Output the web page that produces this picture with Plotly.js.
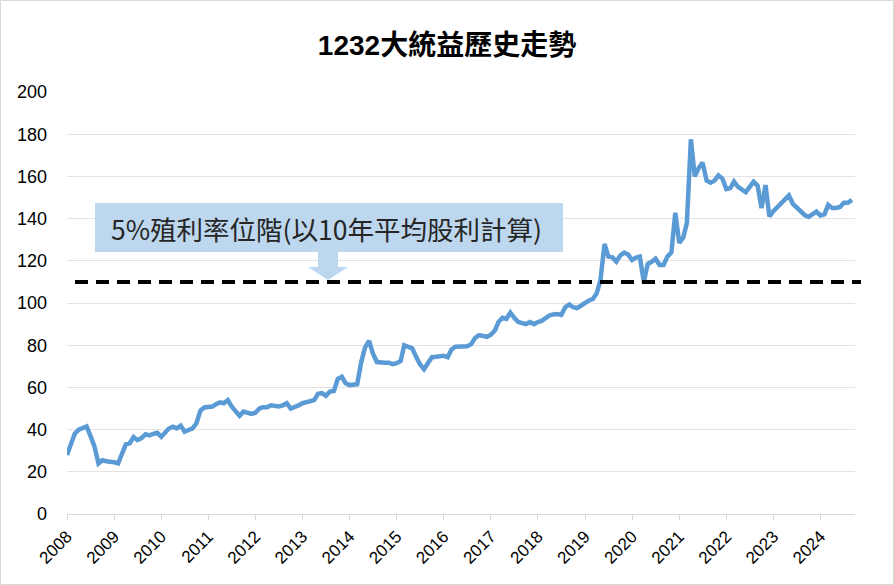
<!DOCTYPE html>
<html>
<head>
<meta charset="utf-8">
<script src="https://cdn.plot.ly/plotly-3.0.1.min.js"></script>
<style>html,body{margin:0;padding:0;background:#fff;}#chart{width:894px;height:585px;}</style>
</head>
<body>
<div id="chart"></div>
<script>
// Monthly closing price, starting Jan 2008
const startYear = 2008;
const prices = [
  28, 34, 38, 40, 41, 41.5, 37, 32, 24, 25.5, 25, 25,
  24.5, 24, 28, 33, 33.5, 36.5, 35, 36, 37.8, 37.3, 38, 38.5,
  36.6, 38.5, 40.5, 41.4, 40.6, 41.9, 39, 39.8, 40.6, 43, 49, 50.5,
  50.9, 50.9, 52, 52.9, 52.5, 54, 51, 48.5, 46.5, 48.5, 48, 47.4,
  48, 50, 50.6, 50.6, 51.5, 51, 51, 51.5, 52.5, 50, 50.5, 51.5,
  52.5, 53.2, 53.6, 54, 57, 57.3, 56, 58, 58.3, 64, 65, 62,
  61.1, 61.1, 61.5, 72, 79, 82, 76, 72, 71.7, 71.7, 71.7, 71,
  71.5, 72.5, 80, 79.5, 78.5, 74.5, 71, 68.6, 72, 74.3, 74.5, 74.6,
  75, 74.3, 78, 79.3, 79.3, 79.8, 79.5, 80.5, 83.5, 84.8, 84.2, 84,
  85, 87, 91, 93, 92.5, 95.4, 93, 91, 90.5, 90, 91, 90,
  91, 91.6, 92.8, 94.2, 94.6, 94.8, 94.4, 98, 99.3, 98, 97.6, 98.5,
  100, 101.2, 101.8, 104.5, 111, 128, 122, 121.6, 119.6, 122.5, 123.9, 123,
  120.4, 121.5, 122, 110, 118.5, 119.5, 121, 118, 118, 122, 124, 142.8,
  128.5, 131, 138, 177.6, 160, 164, 166.5, 158, 157, 158, 160.5, 159,
  154, 154.5, 157.5, 155, 154, 152.5, 155, 157.5, 155.5, 145, 155.9, 141,
  143.5, 145.5, 147.5, 149.5, 151, 147, 145.3, 144, 141.7, 140.8, 142, 143.3,
  141.5, 142, 146.5, 145, 145, 145.5, 147.5, 147.5, 148.9
];
const yearTicks = [2008,2009,2010,2011,2012,2013,2014,2015,2016,2017,2018,2019,2020,2021,2022,2023,2024];
const refLevel = 110;
const titleText = '1232大統益歷史走勢';
const noteText = '5%殖利率位階(以10年平均股利計算)';

const dates = prices.map((_, i) => {
  const y = startYear + Math.floor(i / 12);
  const m = (i % 12) + 1;
  return y + '-' + String(m).padStart(2, '0') + '-01';
});

// pixel -> paper helpers for decorations
const PL = 67, PR = 855, PT = 92, PB = 514;
const px = v => (v - PL) / (PR - PL);
const py = v => (PB - v) / (PB - PT);

const calloutPath = [
  'M', px(95), py(203), 'L', px(563), py(203), 'L', px(563), py(252),
  'L', px(338), py(252), 'L', px(338), py(267), 'L', px(348), py(267),
  'L', px(328), py(280), 'L', px(308), py(267), 'L', px(318), py(267),
  'L', px(318), py(252), 'L', px(95), py(252), 'Z'
].join(' ');

const trace = {
  x: dates, y: prices, type: 'scatter', mode: 'lines',
  line: {color: '#5B9BD5', width: 4.5}, hoverinfo: 'skip'
};

const layout = {
  width: 894, height: 585,
  margin: {l: PL, r: 894 - PR, t: PT, b: 585 - PB},
  paper_bgcolor: '#fff', plot_bgcolor: '#fff',
  showlegend: false,
  font: {family: 'Liberation Sans, Arial, "Noto Sans CJK TC", sans-serif', color: '#000'},
  title: {
    text: titleText,
    font: {size: 28, family: 'Liberation Sans, Arial, "Noto Sans CJK TC", sans-serif', color: '#000', weight: 'bold'},
    x: 0.5, xanchor: 'center', y: 1 - 45/585, yanchor: 'middle'
  },
  xaxis: {
    type: 'date',
    range: ['2008-01-01', '2024-09-25'],
    tickvals: yearTicks.map(y => y + '-01-01'),
    ticktext: yearTicks.map(String),
    tickangle: -45,
    ticks: 'outside', ticklen: 5, tickcolor: '#d9d9d9', tickwidth: 1,
    showgrid: false, zeroline: false,
    showline: true, linecolor: '#d9d9d9', linewidth: 1,
    tickfont: {size: 17, color: '#000'}
  },
  yaxis: {
    range: [0, 200], dtick: 20, tick0: 0,
    showgrid: true, gridcolor: '#e3e3e3', gridwidth: 1,
    zeroline: false, showline: false, ticks: '',
    tickfont: {size: 18, color: '#000'}, ticklabelstandoff: 19
  },
  shapes: [
    {type: 'path', xref: 'paper', yref: 'paper', path: calloutPath,
     fillcolor: '#BDD7EE', line: {width: 0}, layer: 'above'},
    {type: 'line', xref: 'paper', yref: 'y', x0: px(75), x1: px(861), y0: refLevel, y1: refLevel,
     line: {color: '#000', width: 4, dash: '13px,8px'}, layer: 'above'},
    {type: 'rect', xref: 'paper', yref: 'paper', x0: px(0.5), x1: px(893.5), y0: py(584.5), y1: py(0.5),
     line: {color: '#d9d9d9', width: 1}, fillcolor: 'rgba(0,0,0,0)', layer: 'below'}
  ],
  annotations: [
    {xref: 'paper', yref: 'paper', x: px(326), y: py(228), xanchor: 'center', yanchor: 'middle',
     text: noteText, showarrow: false,
     font: {size: 26.5, color: '#262626', family: '"Noto Sans CJK TC", "Noto Sans", sans-serif'}}
  ]
};

Plotly.newPlot('chart', [trace], layout, {staticPlot: true, displayModeBar: false});
</script>
</body>
</html>
